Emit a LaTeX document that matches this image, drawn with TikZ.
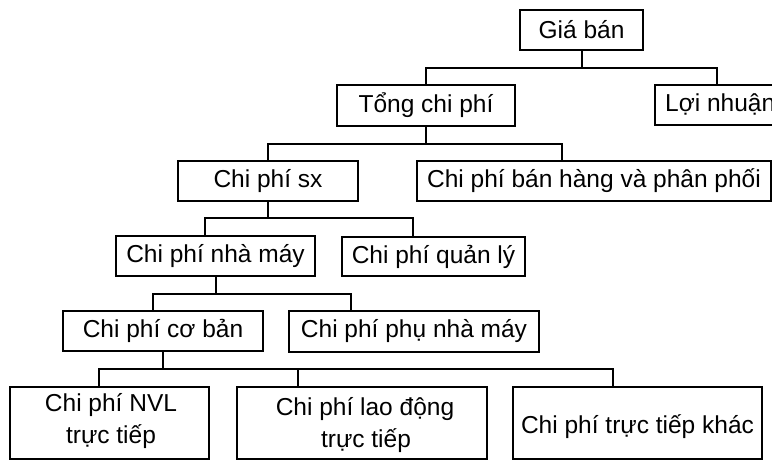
\documentclass[tikz,border=0pt]{standalone}
\usepackage{fontspec}
\setmainfont{Liberation Sans}
\usetikzlibrary{calc}
\begin{document}
\begin{tikzpicture}[x=1pt,y=-1pt,
  box/.style={draw, line width=2.3pt, inner sep=0pt, minimum height=40pt},
  wire/.style={line width=2pt},
  lbl/.style={anchor=base, inner sep=0pt},
  font=\fontsize{24.5}{32}\selectfont]
\useasboundingbox (0,0) rectangle (772,460);
\clip (0,0) rectangle (772,460);

% boxes
\node[box, minimum width=123pt] (gia) at (581.5,30) {Giá bán};
\node[box, minimum width=178pt, minimum height=41pt] (tong) at (426,105.5) {Tổng chi phí};
\node[box, minimum width=124pt] (loi) at (717,105) {};
\node[lbl, anchor=base west] (loit) at (665,111.5) {Lợi nhuận};
\node[box, minimum width=180pt] (sx) at (268,181) {Chi phí sx};
\node[box, minimum width=354pt] (ban) at (594,181) {Chi phí bán hàng và phân phối};
\node[box, minimum width=199pt] (nhamay) at (215.5,256) {Chi phí nhà máy};
\node[box, minimum width=183pt, minimum height=39pt] (quanly) at (433.5,256.5) {Chi phí quản lý};
\node[box, minimum width=200pt] (coban) at (163,331) {Chi phí cơ bản};
\node[box, minimum width=250pt, minimum height=41pt] (phu) at (414,331.5) {Chi phí phụ nhà máy};
\node[box, minimum width=199pt, minimum height=72pt] (nvl) at (109.5,423) {};
\node[box, minimum width=250pt, minimum height=72pt] (laodong) at (362,423) {};
\node[box, minimum width=249pt, minimum height=72pt] (khac) at (637.5,423) {};

% texts of the bottom row
\node[lbl] (nvla) at (111,411.5) {Chi phí NVL};
\node[lbl] (nvlb) at (111,443) {trực tiếp};
\node[lbl] (lda) at (365,415) {Chi phí lao động};
\node[lbl] (ldb) at (366,447) {trực tiếp};
\node[lbl] (khact) at (637.5,433) {Chi phí trực tiếp khác};

% junction points of the tree
\coordinate (j1) at ($(gia.south)+(0,17)$);
\coordinate (j2) at ($(tong.south)+(0,17)$);
\coordinate (j3) at ($(sx.south)+(0,16)$);
\coordinate (j4) at ($(nhamay.south)+(0,17)$);
\coordinate (j5) at ($(coban.south)+(0,17)$);

% connectors
\draw[wire] (gia.south) -- (j1);
\draw[wire] (tong.north) |- (j1) -| (loi.north);

\draw[wire] (tong.south) -- (j2);
\draw[wire] (sx.north) |- (j2) -| ([xshift=-32pt]ban.north);

\draw[wire] (sx.south) -- (j3);
\draw[wire] ([xshift=-10.5pt]nhamay.north) |- (j3) -| ([xshift=-20.5pt]quanly.north);

\draw[wire] (nhamay.south) -- (j4);
\draw[wire] ([xshift=-10pt]coban.north) |- (j4) -| ([xshift=-63pt]phu.north);

\draw[wire] (coban.south) -- (j5);
\draw[wire] ([xshift=-10.5pt]nvl.north) |- (j5) -| ([xshift=-24.5pt]khac.north);
\draw[wire] ([xshift=-64pt]laodong.north) -- ([xshift=-64pt]laodong.north |- j5);
\end{tikzpicture}
\end{document}
